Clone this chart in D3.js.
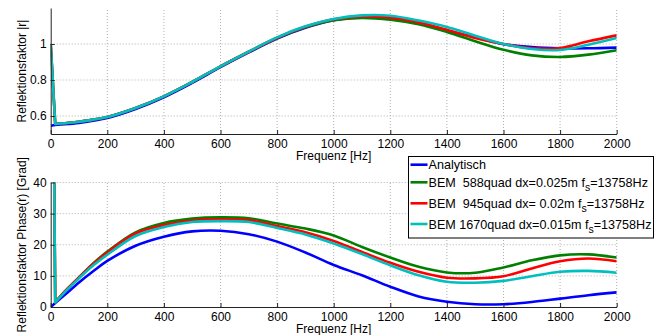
<!DOCTYPE html>
<html lang="de">
<head>
<meta charset="UTF-8">
<title>Reflektionsfaktor</title>
<style>
  body { margin: 0; background: #fff; overflow: hidden; }
  svg { display: block; font-family: "Liberation Sans", Arial, Helvetica, sans-serif; }
  .grid line { stroke: #b0b0b0; stroke-width: 1; stroke-dasharray: 1,2; }
  .axis path, .axis line { stroke: #222; }
  .axis text { font-size: 12px; fill: #000; }
  .lbl { font-size: 12px; fill: #000; }
  .leg { font-size: 12.6px; fill: #000; }
</style>
<script src="https://d3js.org/d3.v7.min.js"></script>
</head>
<body>
<svg width="665" height="335"></svg>
<script>
// frequency points [Hz]
const freq = [0, 16, 50, 100, 150, 200, 300, 400, 500, 600, 700, 800, 900, 1000,
              1100, 1200, 1300, 1400, 1500, 1600, 1700, 1800, 1900, 2000];

// |r|
const magAnalytic = [0.546, 0.550, 0.554, 0.562, 0.574, 0.589, 0.639, 0.704, 0.784, 0.871, 0.953, 1.030, 1.090, 1.132,
                     1.150, 1.145, 1.118, 1.075, 1.037, 0.999, 0.983, 0.976, 0.976, 0.980];
const magBem588   = [1.0, 0.556, 0.560, 0.568, 0.580, 0.594, 0.644, 0.709, 0.789, 0.876, 0.957, 1.033, 1.093, 1.132,
                     1.145, 1.135, 1.110, 1.067, 1.015, 0.968, 0.937, 0.928, 0.941, 0.965];
const magBem945   = [1.0, 0.556, 0.560, 0.568, 0.580, 0.594, 0.644, 0.709, 0.789, 0.876, 0.957, 1.035, 1.096, 1.137,
                     1.153, 1.146, 1.120, 1.079, 1.033, 1.000, 0.976, 0.978, 1.015, 1.048];
const magBem1670  = [1.0, 0.556, 0.560, 0.568, 0.580, 0.594, 0.644, 0.709, 0.789, 0.876, 0.958, 1.037, 1.098, 1.139,
                     1.159, 1.157, 1.130, 1.094, 1.046, 1.000, 0.972, 0.967, 0.996, 1.033];

// Phase(r) [Grad]
const phaseAnalytic = [0, 1.3, 3.9, 7.9, 11.5, 14.8, 19.7, 22.6, 24.3, 24.5, 23.4, 21.0, 17.5, 13.5,
                       10.2, 6.5, 3.4, 1.7, 0.9, 0.9, 1.6, 2.7, 3.8, 4.7];
const phaseBem588   = [180, 1.5, 5.0, 9.5, 14.0, 17.8, 24.0, 27.0, 28.4, 28.8, 28.5, 26.8, 25.2, 23.0,
                       19.3, 15.9, 12.9, 11.1, 11.0, 12.7, 15.0, 16.6, 16.9, 15.9];
const phaseBem945   = [180, 1.5, 5.0, 9.5, 13.8, 17.5, 23.6, 26.3, 27.8, 28.2, 27.9, 26.0, 24.0, 21.2,
                       17.7, 14.2, 11.3, 9.4, 9.2, 9.9, 12.4, 14.7, 15.6, 14.7];
const phaseBem1670  = [180, 1.5, 4.8, 9.2, 13.3, 16.8, 22.8, 25.7, 27.3, 27.6, 27.3, 25.4, 23.3, 20.4,
                       17.0, 13.4, 10.2, 8.1, 7.8, 8.4, 9.9, 11.3, 11.6, 11.0];

const xTicks = [0, 200, 400, 600, 800, 1000, 1200, 1400, 1600, 1800, 2000];
const magTicks = [0.6, 0.8, 1];
const phaseTicks = [0, 10, 20, 30, 40];

const seriesNames = ["Analytisch",
                     "BEM  588quad dx=0.025m f_s=13758Hz",
                     "BEM  945quad dx= 0.02m f_s=13758Hz",
                     "BEM 1670quad dx=0.015m f_s=13758Hz"];
const colors = ["#0000ff", "#008000", "#ff0000", "#00bfbf"];

const svg = d3.select('svg');
const x = d3.scaleLinear().domain([0, 2000]).range([50.7, 616.7]);

function panel(id, yScale, yTicks, series, yLabel) {
  const [y0, y1] = yScale.range(); // bottom, top
  const g = svg.append('g');

  g.append('clipPath').attr('id', id)
    .append('rect')
    .attr('x', x.range()[0]).attr('y', y1)
    .attr('width', x.range()[1] - x.range()[0]).attr('height', y0 - y1);

  const grid = g.append('g').attr('class', 'grid');
  grid.selectAll('.gx').data(xTicks.slice(1)).enter().append('line')
    .attr('x1', d => x(d)).attr('x2', d => x(d))
    .attr('y1', y0).attr('y2', y1);
  grid.selectAll('.gy').data(yTicks.filter(d => yScale(d) < y0 - 1)).enter().append('line')
    .attr('x1', x.range()[0]).attr('x2', x.range()[1])
    .attr('y1', d => yScale(d)).attr('y2', d => yScale(d));

  // first step (0 -> 16 Hz) straight, the rest smooth
  const pts = s => s.map((v, i) => [x(freq[i]), yScale(v)]);
  const straight = d3.line();
  const smooth = d3.line().curve(d3.curveCatmullRom.alpha(0.5));

  const lines = g.append('g').attr('clip-path', `url(#${id})`)
    .selectAll('path').data(series).enter().append('path')
    .attr('d', s => {
      const p = pts(s);
      return straight(p.slice(0, 2)) + smooth(p.slice(1)).replace(/^M[^C]*/, '');
    })
    .attr('fill', 'none')
    .attr('stroke', (d, i) => colors[i])
    .attr('stroke-width', 2.6)
    .attr('stroke-linejoin', 'round');

  g.append('g').attr('class', 'axis')
    .attr('transform', `translate(0,${y0})`)
    .call(d3.axisBottom(x).tickValues(xTicks).tickFormat(d3.format('d'))
      .tickSizeInner(-4).tickSizeOuter(0).tickPadding(5));

  g.append('g').attr('class', 'axis')
    .attr('transform', `translate(${x.range()[0]},0)`)
    .call(d3.axisLeft(yScale).tickValues(yTicks).tickFormat(d3.format('~g'))
      .tickSizeInner(-4).tickSizeOuter(0).tickPadding(4));

  g.append('text').attr('class', 'lbl')
    .attr('x', (x.range()[0] + x.range()[1]) / 2)
    .attr('y', y0 + 26)
    .attr('text-anchor', 'middle')
    .text('Frequenz [Hz]');

  g.append('text').attr('class', 'lbl')
    .attr('transform', `translate(26,${(y0 + y1) / 2}) rotate(-90)`)
    .attr('text-anchor', 'middle')
    .text(yLabel);
}

const yMag = d3.scaleLinear().domain([0.5, 1.2]).range([134, 8]);
const yPhase = d3.scaleLinear().domain([0, 40]).range([307, 182.5]);

panel('clipMag', yMag, magTicks, [magAnalytic, magBem588, magBem945, magBem1670], 'Reflektionsfaktor |r|');
panel('clipPhase', yPhase, phaseTicks, [phaseAnalytic, phaseBem588, phaseBem945, phaseBem1670], 'Reflektionsfaktor Phase(r) [Grad]');

// legend
const leg = svg.append('g');
leg.append('rect')
  .attr('x', 408.5).attr('y', 156.5).attr('width', 245).attr('height', 81.5)
  .attr('fill', '#fff').attr('stroke', '#000').attr('stroke-width', 1);

const rowY = [164.7, 182.3, 203.3, 224];
seriesNames.forEach((name, i) => {
  leg.append('line')
    .attr('x1', 410.5).attr('x2', 427.5)
    .attr('y1', rowY[i]).attr('y2', rowY[i])
    .attr('stroke', colors[i]).attr('stroke-width', 2.6);
  const t = leg.append('text').attr('class', 'leg')
    .attr('x', 428.5).attr('y', rowY[i] + 4.5)
    .attr('xml:space', 'preserve')
    .style('white-space', 'pre');
  const parts = name.split('_s');
  t.append('tspan').text(parts[0]);
  if (parts.length > 1) {
    t.append('tspan').attr('dy', 4.5).style('font-size', '10.5px').text('s');
    t.append('tspan').attr('dy', -4.5).text(parts[1]);
  }
});
</script>
</body>
</html>
